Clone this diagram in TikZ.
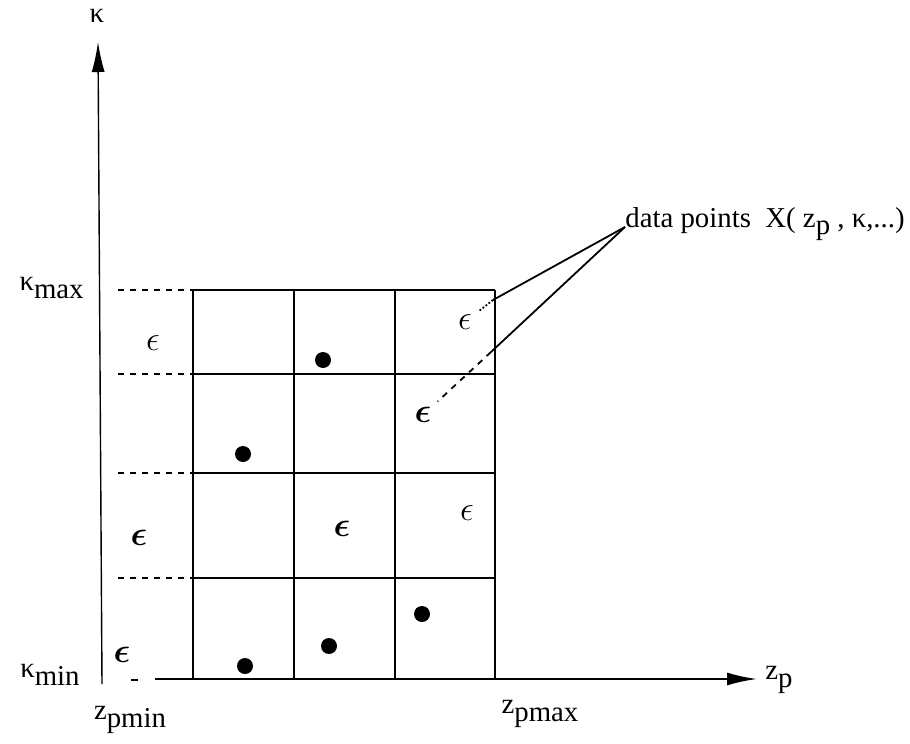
\documentclass[tikz,border=0pt]{standalone}
\usepackage{fontspec}
\setmainfont{Liberation Serif}
\usepackage{amsmath,bm}
\usetikzlibrary{arrows.meta}
\newcommand{\subdn}[1]{\raisebox{-0.55ex}{#1}}

\begin{document}
\begin{tikzpicture}[x=0.5pt,y=-0.5pt,
    axis/.style={line width=1.1pt,-{Latex[length=15pt,width=6.5pt]}},
    yaxis/.style={line width=0.7pt,-{Latex[length=15pt,width=6.5pt]}},
    gridline/.style={line width=0.9pt},
    leftseg/.style={line width=0.8pt,dashed},
    dot/.style={circle,fill=black,inner sep=0pt,minimum size=8pt},
    eps/.style={inner sep=0pt,font=\LARGE},
    lead/.style={line width=0.9pt},
    lbl/.style={font=\Large,inner sep=0pt}
  ]
    \useasboundingbox (0,0) rectangle (910,744);
    % axes
    \coordinate (ybot) at (102,684);
    \coordinate (ytop) at (98,42);
    \coordinate (xbeg) at (155,679);
    \coordinate (xend) at (757,679);
    \draw[yaxis] (ybot) -- (ytop);
    \draw[line width=0.8pt] (131,680) -- (138,680);
    \draw[axis] (xbeg) -- (xend);
    % grid
    \foreach \x in {193,294,395,495}
      \draw[gridline] (\x,290) -- (\x,679);
    \foreach \y in {290,374,473,578} {
      \draw[leftseg] (118,\y) -- (193,\y);
      \draw[gridline] (193,\y) -- (495,\y);
    }
    % labels
    \node[lbl] (kap) at (97,16) {κ};
    \node[lbl,anchor=east] (kmax) at (84,288) {κ\subdn{max}};
    \node[lbl,anchor=east] (kmin) at (80,675) {κ\subdn{min}};
    \node[lbl] (zmin) at (130,720) {z\subdn{pmin}};
    \node[lbl] (zmax) at (540,714) {z\subdn{pmax}};
    \node[lbl,anchor=west] (zp) at (765,680) {z\subdn{p}};
    \node[lbl,anchor=base west] (dp) at (625,227)
      {data points\ \ X( z\subdn{p} , κ,...)};
    % data points
    \node[dot] (d1) at (323,360) {};
    \node[dot] (d2) at (243,454) {};
    \node[dot] (d3) at (422,614) {};
    \node[dot] (d4) at (329,646) {};
    \node[dot] (d5) at (245,666) {};
    \node[eps] (e1) at (153,343) {$\epsilon$};
    \node[eps] (e2) at (465,322) {$\epsilon$};
    \node[eps] (e3) at (467,513) {$\epsilon$};
    \node[eps] (e4) at (139,538) {$\bm{\epsilon}$};
    \node[eps] (e5) at (342,529) {$\bm{\epsilon}$};
    \node[eps] (e6) at (423,415) {$\bm{\epsilon}$};
    \node[eps] (e7) at (122,655) {$\bm{\epsilon}$};
    % leaders
    \coordinate (c1) at (493,300);
    \coordinate (c2) at (491,352);
    \draw[lead] (dp.base west) -- (c1);
    \draw[lead,densely dotted,shorten >=4pt] (c1) -- (e2);
    \draw[lead] (dp.base west) -- (c2);
    \draw[lead,dashed,shorten >=4pt] (c2) -- (e6);
  \end{tikzpicture}
\end{document}
